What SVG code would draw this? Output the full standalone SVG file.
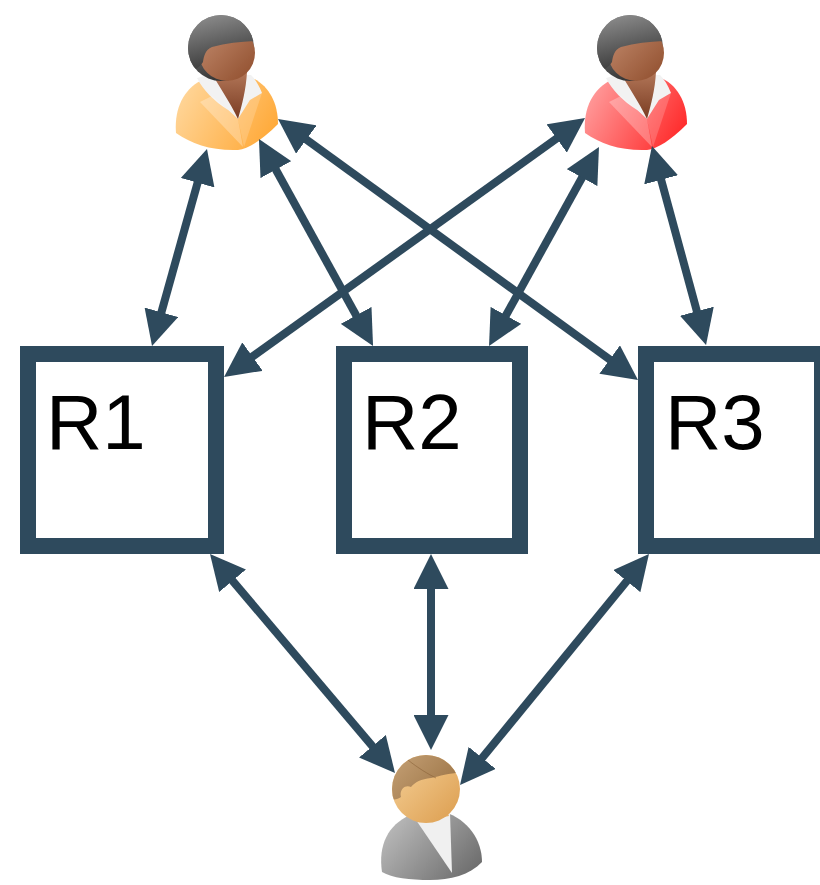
<svg xmlns="http://www.w3.org/2000/svg" xmlns:xlink="http://www.w3.org/1999/xlink" width="820" height="885" viewBox="0 0 820 885">
  <style>
    .box { fill: #ffffff; stroke: #2e4a5d; stroke-width: 16; }
    .label { font-family: "Liberation Sans", Arial, sans-serif; font-size: 78px; fill: #000000; }
    .link { stroke: #2e4a5d; stroke-width: 8; fill: none; marker-start: url(#ah); marker-end: url(#ah); }
  </style>
  <defs>
    <marker id="ah" viewBox="0 0 35 35" refX="15" refY="17.5" markerWidth="35" markerHeight="35" markerUnits="userSpaceOnUse" orient="auto-start-reverse">
      <path d="M0,0 L35,17.5 L0,35 Z" fill="#2e4a5d"/>
    </marker>
    <linearGradient id="hairW" x1="0" y1="0" x2="0.3" y2="1">
      <stop offset="0" stop-color="#9a9a9a"/>
      <stop offset="1" stop-color="#383838"/>
    </linearGradient>
    <linearGradient id="faceW" x1="0" y1="0" x2="1" y2="1">
      <stop offset="0" stop-color="#c48d70"/>
      <stop offset="1" stop-color="#8f4d2c"/>
    </linearGradient>
    <linearGradient id="neckW" x1="0" y1="0" x2="0" y2="1">
      <stop offset="0" stop-color="#b27658"/>
      <stop offset="1" stop-color="#7a3c22"/>
    </linearGradient>
    <linearGradient id="orangeBody" x1="0" y1="0.3" x2="1" y2="0.7">
      <stop offset="0" stop-color="#ffd69a"/>
      <stop offset="1" stop-color="#ffa938"/>
    </linearGradient>
    <linearGradient id="redBody" x1="0" y1="0.3" x2="1" y2="0.7">
      <stop offset="0" stop-color="#ff9c9c"/>
      <stop offset="1" stop-color="#ff2a2a"/>
    </linearGradient>
    <linearGradient id="manHair" x1="0" y1="0" x2="1" y2="0.6">
      <stop offset="0" stop-color="#c9a57a"/>
      <stop offset="1" stop-color="#9c7446"/>
    </linearGradient>
    <linearGradient id="manFace" x1="0" y1="0" x2="1" y2="1">
      <stop offset="0" stop-color="#f6d29a"/>
      <stop offset="1" stop-color="#dc9d4e"/>
    </linearGradient>
    <linearGradient id="manBody" x1="0" y1="0.2" x2="1" y2="0.8">
      <stop offset="0" stop-color="#bdbdbd"/>
      <stop offset="1" stop-color="#6c6c6c"/>
    </linearGradient>
    <clipPath id="clipW"><circle cx="221" cy="48" r="33"/></clipPath>
    <clipPath id="clipM"><circle cx="426" cy="789" r="34"/></clipPath>

    <!-- female user figure; jacket colour comes from the referencing use -->
    <g id="woman">
      <path d="M176,133 C174,108 184,88 204,79 L250,77 C268,84 278,102 278,124 C262,140 248,149 238,150 C212,151 192,144 176,133 Z"/>
      <path d="M197,78 C203,90 214,101 228,110 L238,119 L250,100 L262,93 C259,85 255,79 251,75 L208,75 Z" fill="#f2f2f2"/>
      <path d="M211,72 L247,72 C246,90 242,105 238,119 C230,102 220,88 211,72 Z" fill="url(#neckW)"/>
      <path d="M200,102 L212,96 L238,119 L243,147 Z" fill="#ffffff" fill-opacity="0.28"/>
      <path d="M262,93 L250,100 L238,119 L244,147 Z" fill="#ffffff" fill-opacity="0.18"/>
      <circle cx="221" cy="48" r="33" fill="url(#hairW)"/>
      <circle cx="227" cy="53" r="28" fill="url(#faceW)"/>
      <path clip-path="url(#clipW)" fill="url(#hairW)" d="M185,10 L260,10 L260,41 C245,41 228,43 212,47 C205,50 204,56 203,62 C200,67 195,70 188,72 L185,72 Z"/>
    </g>
  </defs>

  <!-- users -->
  <g id="user-top-left">
    <use xlink:href="#woman" href="#woman" fill="url(#orangeBody)"/>
  </g>
  <g id="user-top-right">
    <use xlink:href="#woman" href="#woman" transform="translate(409,0)" fill="url(#redBody)"/>
  </g>
  <g id="user-bottom">
    <path d="M382,872 C378,845 388,825 410,815 L445,812 C468,820 482,840 482,862 C470,875 450,880 430,880 C410,880 392,878 382,872 Z" fill="url(#manBody)"/>
    <path d="M416,820 L450,813 L452,873 Z" fill="#f0f0f0"/>
    <path d="M414,808 L446,808 L449,816 C440,818 428,820 417,822 Z" fill="#e6b06a"/>
    <circle cx="426" cy="789" r="34" fill="url(#manFace)"/>
    <path clip-path="url(#clipM)" fill="url(#manHair)" d="M388,750 L465,750 L465,773 C452,772 441,776 431,778 C421,779 415,782 411,787 C405,784 399,790 401,797 C397,800 393,800 388,798 Z"/>
    <path d="M408,760 C418,768 428,774 436,778" stroke="#8a6238" stroke-width="1" fill="none" clip-path="url(#clipM)" opacity="0.6"/>
  </g>

  <!-- connectors -->
  <g id="connectors">
    <line class="link" x1="201.6" y1="168.3" x2="157.4" y2="326.7"/>
    <line class="link" x1="268.6" y1="156.5" x2="363.4" y2="328.5"/>
    <line class="link" x1="294.2" y1="130.7" x2="621.8" y2="368.3"/>
    <line class="link" x1="568.8" y1="129.7" x2="240.3" y2="365.3"/>
    <line class="link" x1="589.3" y1="164.5" x2="498.7" y2="328.5"/>
    <line class="link" x1="657.2" y1="165.3" x2="700.8" y2="325.7"/>
    <line class="link" x1="222.9" y1="569.3" x2="382.1" y2="757.7"/>
    <line class="link" x1="431" y1="574" x2="431" y2="730"/>
    <line class="link" x1="636.3" y1="569.5" x2="472.7" y2="769.5"/>
  </g>

  <!-- resources -->
  <g id="R1">
    <rect class="box" x="28" y="354" width="188" height="192"/>
    <text class="label" x="46" y="449">R1</text>
  </g>
  <g id="R2">
    <rect class="box" x="344" y="354" width="176" height="192"/>
    <text class="label" x="362" y="449">R2</text>
  </g>
  <g id="R3">
    <rect class="box" x="646" y="354" width="176" height="192"/>
    <text class="label" x="665" y="449">R3</text>
  </g>
</svg>
